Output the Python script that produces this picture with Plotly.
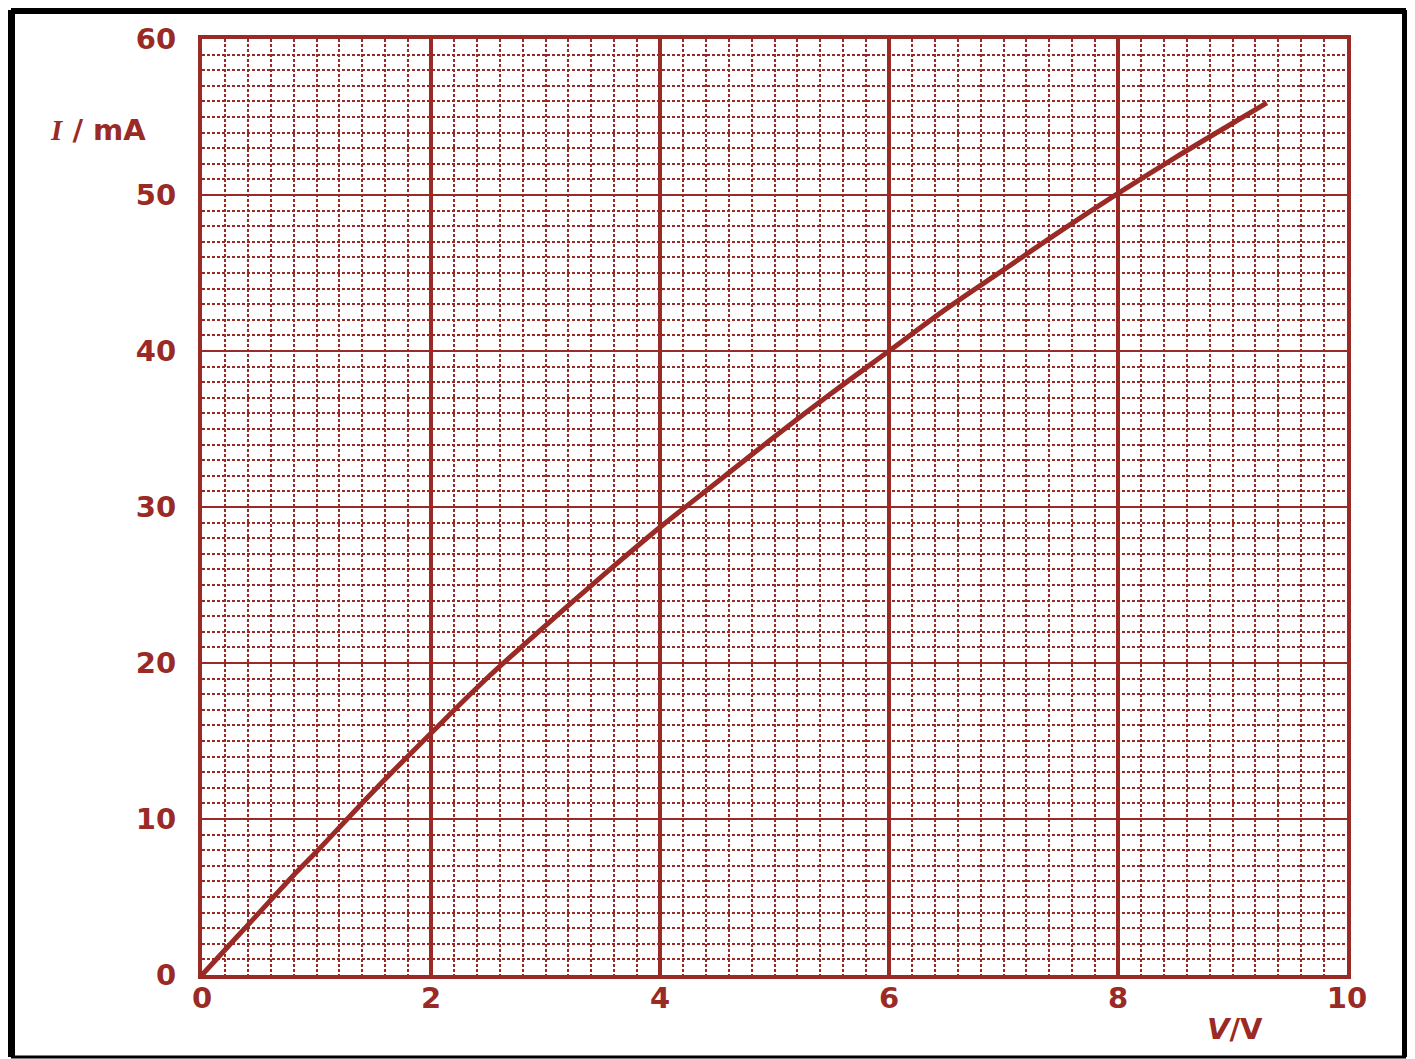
import plotly.graph_objects as go

# Data
voltage_V = [0, 0.2, 0.4, 0.6, 0.8, 1.0, 1.5, 2.0, 2.5, 3.0, 3.5, 4.0, 4.5, 5.0,
             5.5, 6.0, 6.5, 7.0, 7.5, 8.0, 8.5, 9.0, 9.3]
current_mA = [0, 1.6, 3.2, 4.8, 6.4, 7.9, 11.8, 15.5, 19.1, 22.4, 25.6, 28.7, 31.6,
              34.5, 37.3, 40.0, 42.7, 45.2, 47.7, 50.1, 52.4, 54.6, 55.9]
x_ticks = [0, 2, 4, 6, 8, 10]
y_ticks = [0, 10, 20, 30, 40, 50, 60]

RED = "#9a2a25"
OFF = 8  # page body margin
W, H = 1415 - OFF, 1059 - OFF
L, R, T, B = 202 - OFF, 1347 - OFF, 39 - OFF, 975 - OFF

fig = go.Figure()
fig.add_trace(go.Scatter(x=voltage_V, y=current_mA, mode="lines",
                         line=dict(color=RED, width=5, shape="spline"),
                         showlegend=False, hoverinfo="skip"))

font = dict(family="DejaVu Sans, sans-serif", size=29, color=RED, weight="bold")

fig.update_xaxes(range=[0, 10], tickvals=x_ticks, ticks="", tickfont=font,
                 showgrid=True, gridcolor=RED, gridwidth=3.5,
                 minor=dict(dtick=0.2, showgrid=True, gridcolor=RED, gridwidth=1.7,
                            griddash="3px,2px"),
                 showline=True, linecolor=RED, linewidth=4, mirror=True,
                 zeroline=False, ticklabelstandoff=-6)
fig.update_yaxes(range=[0, 60], tickvals=y_ticks, ticks="", tickfont=font,
                 showgrid=True, gridcolor=RED, gridwidth=1.8,
                 minor=dict(dtick=1, showgrid=True, gridcolor=RED, gridwidth=1.7,
                            griddash="3px,2px"),
                 showline=True, linecolor=RED, linewidth=4, mirror=True,
                 zeroline=False, ticklabelstandoff=16)

def px(xp):
    return (xp - OFF - L) / (R - L)

def py(yp):
    return (B - (yp - OFF)) / (B - T)

fig.add_annotation(x=px(98), y=py(130), xref="paper", yref="paper", showarrow=False,
                   xanchor="center", yanchor="middle",
                   text='<span style="font-family:Liberation Serif"><i>I</i></span> / mA',
                   font=font)
fig.add_annotation(x=px(1235), y=py(1029), xref="paper", yref="paper", showarrow=False,
                   xanchor="center", yanchor="middle",
                   text="<i>V</i>/V", font=font)

# black frame of the picture
frame = [
    (11, 10, 1406, 10, 8),
    (11, 10, 11, 1057, 8),
    (1406, 10, 1406, 1057, 8),
    (11, 1057, 1406, 1057, 3),
]
for x0, y0, x1, y1, w in frame:
    fig.add_shape(type="line", xref="paper", yref="paper",
                  x0=px(x0), y0=py(y0), x1=px(x1), y1=py(y1),
                  line=dict(color="black", width=w))

fig.update_layout(width=W, height=H, margin=dict(l=L, r=W - R, t=T, b=H - B),
                  paper_bgcolor="white", plot_bgcolor="white")

fig.write_html("out.html")
